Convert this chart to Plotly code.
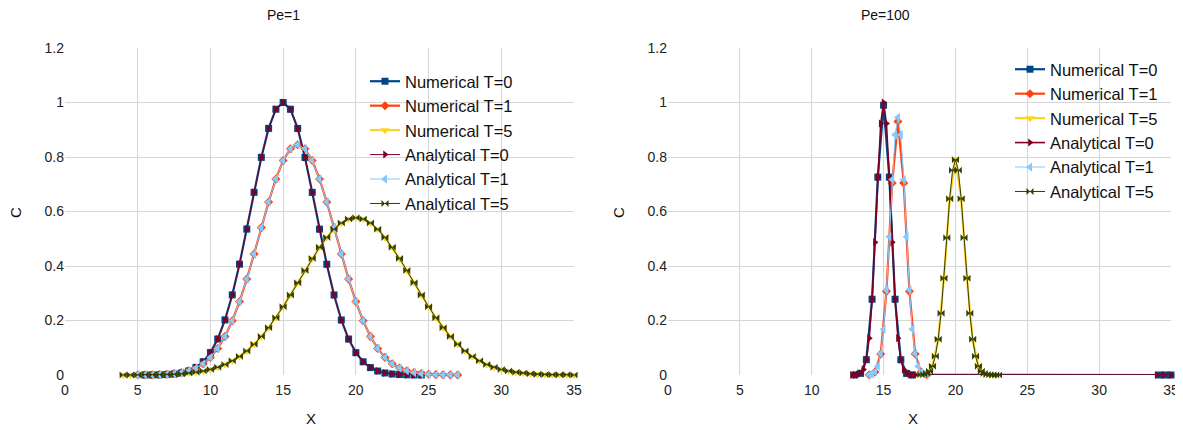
import plotly.graph_objects as go

# ---------------- Pe = 1 ----------------
x_pe1_t0 = [5.5, 6.0, 6.5, 7.0, 7.5, 8.0, 8.5, 9.0, 9.5, 10.0, 10.5, 11.0, 11.5, 12.0, 12.5,
            13.0, 13.5, 14.0, 14.5, 15.0, 15.5, 16.0, 16.5, 17.0, 17.5, 18.0, 18.5, 19.0,
            19.5, 20.0, 20.5, 21.0, 21.5, 22.0, 22.5, 23.0, 23.5, 24.0, 24.5]
c_pe1_t0 = [0.0001, 0.0003, 0.0007, 0.0017, 0.0036, 0.0074, 0.0146, 0.0273, 0.0486, 0.0821,
            0.1320, 0.2019, 0.2938, 0.4066, 0.5353, 0.6703, 0.7985, 0.9048, 0.9753, 1.0,
            0.9753, 0.9048, 0.7985, 0.6703, 0.5353, 0.4066, 0.2938, 0.2019, 0.1320, 0.0821,
            0.0486, 0.0273, 0.0146, 0.0074, 0.0036, 0.0017, 0.0007, 0.0003, 0.0001]

x_pe1_t1 = [5.0, 5.5, 6.0, 6.5, 7.0, 7.5, 8.0, 8.5, 9.0, 9.5, 10.0, 10.5, 11.0, 11.5, 12.0,
            12.5, 13.0, 13.5, 14.0, 14.5, 15.0, 15.5, 16.0, 16.5, 17.0, 17.5, 18.0, 18.5,
            19.0, 19.5, 20.0, 20.5, 21.0, 21.5, 22.0, 22.5, 23.0, 23.5, 24.0, 24.5, 25.0,
            25.5, 26.0, 26.5, 27.0]
c_pe1_t1 = [0.0001, 0.0003, 0.0007, 0.0013, 0.0026, 0.0049, 0.0087, 0.0152, 0.0255, 0.0413,
            0.0646, 0.0974, 0.1417, 0.199, 0.2695, 0.352, 0.444, 0.541, 0.635, 0.7195, 0.787,
            0.830, 0.845, 0.830, 0.787, 0.7195, 0.635, 0.541, 0.444, 0.352, 0.2695, 0.199,
            0.1417, 0.0974, 0.0646, 0.0413, 0.0255, 0.0152, 0.0087, 0.0049, 0.0026, 0.0013,
            0.0007, 0.0003, 0.0001]

x_pe1_t5 = [4.0, 4.5, 5.0, 5.5, 6.0, 6.5, 7.0, 7.5, 8.0, 8.5, 9.0, 9.5, 10.0, 10.5, 11.0,
            11.5, 12.0, 12.5, 13.0, 13.5, 14.0, 14.5, 15.0, 15.5, 16.0, 16.5, 17.0, 17.5,
            18.0, 18.5, 19.0, 19.5, 20.0, 20.5, 21.0, 21.5, 22.0, 22.5, 23.0, 23.5, 24.0,
            24.5, 25.0, 25.5, 26.0, 26.5, 27.0, 27.5, 28.0, 28.5, 29.0, 29.5, 30.0, 30.5,
            31.0, 31.5, 32.0, 32.5, 33.0, 33.5, 34.0, 34.5, 35.0]
c_pe1_t5 = [0.0001, 0.0002, 0.0003, 0.0005, 0.0008, 0.0013, 0.0021, 0.0032, 0.0047, 0.0070,
            0.0102, 0.0146, 0.0206, 0.0285, 0.0388, 0.0519, 0.0683, 0.0885, 0.1127, 0.1411,
            0.1738, 0.2105, 0.2508, 0.2938, 0.3385, 0.3836, 0.4274, 0.4685, 0.5050, 0.5353,
            0.5581, 0.5722, 0.577, 0.5722, 0.5581, 0.5353, 0.5050, 0.4685, 0.4274, 0.3836,
            0.3385, 0.2938, 0.2508, 0.2105, 0.1738, 0.1411, 0.1127, 0.0885, 0.0683, 0.0519,
            0.0388, 0.0285, 0.0206, 0.0146, 0.0102, 0.0070, 0.0047, 0.0032, 0.0021, 0.0013,
            0.0008, 0.0005, 0.0003]

# ---------------- Pe = 100 ----------------
x_pe100_num_t0 = [13.0, 13.4, 13.8, 14.2, 14.6, 15.0, 15.4, 15.8, 16.2, 16.6, 17.0, 34.2, 34.6, 35.0]
c_pe100_num_t0 = [0.0003, 0.006, 0.0561, 0.278, 0.7261, 0.99, 0.7261, 0.278, 0.0561, 0.006,
                  0.0003, 0.0, 0.0, 0.0]
x_pe100_ana_t0 = [12.8, 13.0, 13.2, 13.4, 13.6, 13.8, 14.0, 14.2, 14.4, 14.6, 14.8, 15.0, 15.2,
                  15.4, 15.6, 15.8, 16.0, 16.2, 16.4, 16.6, 16.8, 17.0, 17.2, 34.0, 34.5, 35.0]
c_pe100_ana_t0 = [0.0001, 0.0003, 0.0015, 0.0060, 0.0198, 0.0561, 0.1353, 0.2780, 0.4868,
                  0.7261, 0.9231, 1.0, 0.9231, 0.7261, 0.4868, 0.2780, 0.1353, 0.0561, 0.0198,
                  0.0060, 0.0015, 0.0003, 0.0001, 0.0, 0.0, 0.0]

x_pe100_num_t1 = [14.0, 14.4, 14.8, 15.2, 15.6, 16.0, 16.4, 16.8, 17.2, 17.6, 18.0]
c_pe100_num_t1 = [0.0009, 0.011, 0.077, 0.307, 0.705, 0.93, 0.705, 0.307, 0.077, 0.011, 0.0009]
x_pe100_ana_t1 = [14.0, 14.2, 14.4, 14.6, 14.8, 15.0, 15.2, 15.4, 15.6, 15.8, 16.0, 16.2, 16.4,
                  16.6, 16.8, 17.0, 17.2, 17.4, 17.6, 17.8, 18.0]
c_pe100_ana_t1 = [0.0009, 0.0035, 0.011, 0.032, 0.078, 0.168, 0.312, 0.507, 0.717, 0.882, 0.945,
                  0.882, 0.717, 0.507, 0.312, 0.168, 0.078, 0.032, 0.011, 0.0035, 0.0009]

x_pe100_num_t5 = [17.6, 18.0, 18.4, 18.8, 19.2, 19.6, 20.0, 20.4, 20.8, 21.2, 21.6, 22.0, 22.4, 22.8]
c_pe100_num_t5 = [0.0006, 0.0054, 0.0323, 0.1309, 0.355, 0.647, 0.79, 0.647, 0.355, 0.1309,
                  0.0323, 0.0054, 0.0006, 0.0]
x_pe100_ana_t5 = [17.6, 17.8, 18.0, 18.2, 18.4, 18.6, 18.8, 19.0, 19.2, 19.4, 19.6, 19.8, 20.0,
                  20.2, 20.4, 20.6, 20.8, 21.0, 21.2, 21.4, 21.6, 21.8, 22.0, 22.2, 22.4, 22.6,
                  22.8, 23.0]
c_pe100_ana_t5 = [0.0006, 0.0019, 0.0054, 0.0138, 0.0323, 0.0684, 0.1309, 0.2267, 0.355, 0.504,
                  0.647, 0.7515, 0.79, 0.7515, 0.647, 0.504, 0.355, 0.2267, 0.1309, 0.0684,
                  0.0323, 0.0138, 0.0054, 0.0019, 0.0006, 0.0002, 0.0, 0.0]

names = ["Numerical T=0", "Numerical T=1", "Numerical T=5",
         "Analytical T=0", "Analytical T=1", "Analytical T=5"]
colors = ["#004586", "#ff420e", "#ffd320", "#7e0021", "#83caff", "#314004"]
symbols = ["square", "diamond", "triangle-down", "triangle-right", "triangle-left", "bowtie"]
msizes = [7, 7, 8, 7, 8, 7]
lwidths = [2.2, 2.2, 2.2, 1, 1, 1]

pe1_series = [(x_pe1_t0, c_pe1_t0), (x_pe1_t1, c_pe1_t1), (x_pe1_t5, c_pe1_t5),
              (x_pe1_t0, c_pe1_t0), (x_pe1_t1, c_pe1_t1), (x_pe1_t5, c_pe1_t5)]
pe100_series = [(x_pe100_num_t0, c_pe100_num_t0), (x_pe100_num_t1, c_pe100_num_t1),
                (x_pe100_num_t5, c_pe100_num_t5), (x_pe100_ana_t0, c_pe100_ana_t0),
                (x_pe100_ana_t1, c_pe100_ana_t1), (x_pe100_ana_t5, c_pe100_ana_t5)]

FONT = "Liberation Sans, Arial, sans-serif"
fig = go.Figure()

for i, (xs, ys) in enumerate(pe1_series):
    fig.add_trace(go.Scatter(
        x=xs, y=ys, mode="lines+markers", name=names[i],
        line=dict(color=colors[i], width=lwidths[i]),
        marker=dict(symbol=symbols[i], size=msizes[i], color=colors[i], line=dict(width=0)),
        xaxis="x", yaxis="y", legend="legend", cliponaxis=False))

for i, (xs, ys) in enumerate(pe100_series):
    fig.add_trace(go.Scatter(
        x=xs, y=ys, mode="lines+markers", name=names[i],
        line=dict(color=colors[i], width=lwidths[i] + (0.6 if i == 3 else 0)),
        marker=dict(symbol=symbols[i], size=msizes[i], color=colors[i], line=dict(width=0)),
        xaxis="x2", yaxis="y2", legend="legend2", cliponaxis=False))

# page layout helpers (page has an 8px body offset; plot area = figure minus margins)
W, H = 1183, 430
OFF = 8
MT, MB = 20, 20
PH = H - MT - MB


def px(page_x):
    return (page_x - OFF) / W


def py(page_y):
    return (H - MB - (page_y - OFF)) / PH


axis_common = dict(showgrid=True, gridcolor="#d6d6d6", gridwidth=1, zeroline=False,
                   showline=False, ticks="", tickfont=dict(family=FONT, size=14, color="#222"))

xa = dict(range=[0, 35], tickmode="linear", tick0=0, dtick=5, ticklabelstandoff=5, **axis_common)
ya = dict(range=[0, 1.2], tickmode="linear", tick0=0, dtick=0.2, **axis_common)

legend_common = dict(font=dict(family=FONT, size=16.5, color="#111"), bgcolor="rgba(0,0,0,0)",
                     borderwidth=0, xanchor="left", yanchor="top", tracegroupgap=0)


def ann(text, x, y, size, angle=0):
    return dict(text=text, x=px(x), y=py(y), xref="paper", yref="paper", showarrow=False,
                xanchor="center", yanchor="middle", textangle=angle,
                font=dict(family=FONT, size=size, color="#111"))


fig.update_layout(
    width=W, height=H,
    margin=dict(l=0, r=0, t=MT, b=MB, autoexpand=False),
    paper_bgcolor="white", plot_bgcolor="white",
    xaxis=dict(domain=[px(65), px(574)], anchor="y", **xa),
    yaxis=dict(domain=[py(375), py(48)], anchor="x", **ya),
    xaxis2=dict(domain=[px(668), px(1171)], anchor="y2", **xa),
    yaxis2=dict(domain=[py(375), py(48)], anchor="x2", **ya),
    legend=dict(x=px(365), y=py(64), **legend_common),
    legend2=dict(x=px(1010), y=py(52), **legend_common),
    annotations=[
        ann("Pe=1", 283, 15, 14),
        ann("Pe=100", 885, 15, 14),
        ann("X", 311, 418, 15),
        ann("X", 913, 418, 15),
        ann("C", 15, 213, 15, -90),
        ann("C", 618, 213, 15, -90),
    ],
)

fig.write_html("out.html")
